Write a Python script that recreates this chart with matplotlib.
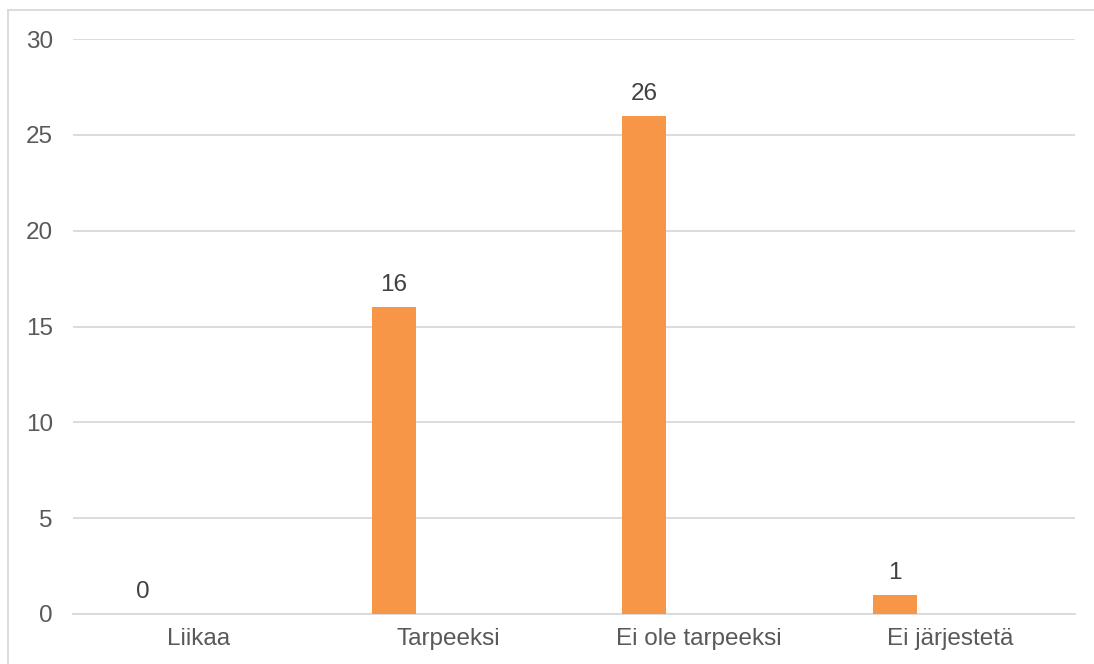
import matplotlib
matplotlib.use("Agg")
from matplotlib import pyplot as plt
from matplotlib.lines import Line2D

# chart data
categories = ["Liikaa", "Tarpeeksi", "Ei ole tarpeeksi", "Ei järjestetä"]
counts = [0, 16, 26, 1]
y_ticks = [0, 5, 10, 15, 20, 25, 30]

plt.rcParams['font.family'] = ['Liberation Sans', 'DejaVu Sans']
text_color = '#595959'
label_color = '#404040'
grid_color = '#D9D9D9'
bar_color = '#F79646'
font_size = 17.5

fig = plt.figure(figsize=(10.94, 6.64), dpi=100)
ax = fig.add_axes([73 / 1094, 1 - 614 / 664, (1075 - 73) / 1094, (614 - 39) / 664])

x = list(range(len(categories)))
# bars sit left of the category centre (first slot of a grouped layout)
bar_offset = -0.22
bar_x = [xi + bar_offset for xi in x]
ax.bar(bar_x, counts, width=0.176, color=bar_color, zorder=3)

# value labels above bars
for bx, v in zip(bar_x, counts):
    ax.annotate(str(v), (bx, v), xytext=(0, 8), textcoords='offset points',
                ha='center', va='bottom', fontsize=font_size, color=label_color)

ax.set_xlim(-0.5, len(categories) - 0.5)
ax.set_ylim(0, 30)
ax.set_yticks(y_ticks)
ax.set_xticks(x)
ax.set_xticklabels(categories)
ax.tick_params(axis='both', length=0, labelsize=font_size, labelcolor=text_color)
ax.tick_params(axis='y', pad=14.5)
ax.tick_params(axis='x', pad=10)
ax.yaxis.grid(True, color=grid_color, linewidth=1.3, zorder=0)
for s in ['top', 'right', 'left']:
    ax.spines[s].set_visible(False)
ax.spines['bottom'].set_color(grid_color)
ax.spines['bottom'].set_linewidth(1.3)

# outer chart border: only top and left edges show in the crop
bx0, by0 = 8 / 1094, 1 - 10 / 664
fig.lines.append(Line2D([bx0, 1.0], [by0, by0], transform=fig.transFigure,
                        color=grid_color, linewidth=1.3))
fig.lines.append(Line2D([bx0, bx0], [0.0, by0], transform=fig.transFigure,
                        color=grid_color, linewidth=1.3))

fig.savefig('out.png', dpi=100)
